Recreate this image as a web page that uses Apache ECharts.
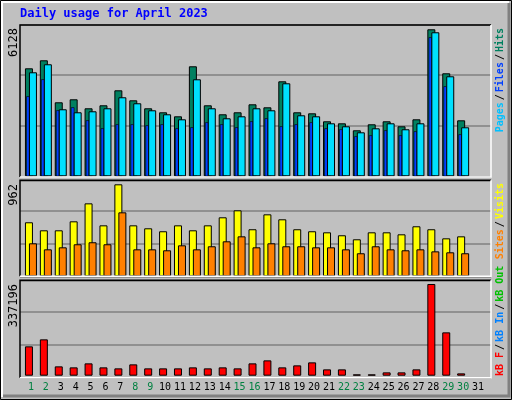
<!DOCTYPE html>
<html><head><meta charset="utf-8">
<script src="https://cdn.jsdelivr.net/npm/echarts@6/dist/echarts.min.js"></script>
<style>html,body{margin:0;padding:0;background:#c0c0c0}#c{width:512px;height:400px}</style>
</head><body><div id="c"></div>
<script>
var days = ['1','2','3','4','5','6','7','8','9','10','11','12','13','14','15','16','17','18','19','20','21','22','23','24','25','26','27','28','29','30','31'];
var weekend = ['1','2','8','9','15','16','22','23','29','30'];
var hits  = [4502,4836,3085,3210,2835,2960,3585,3168,2835,2668,2501,4586,2960,2585,2668,3001,2876,3960,2668,2626,2293,2209,1918,2168,2293,2084,2376,6128,4294,2334,null];
var files = [4336,4670,2794,2668,2710,2835,3294,3044,2752,2585,2376,4044,2835,2418,2501,2835,2752,3877,2543,2501,2209,2084,1834,2001,2209,1960,2209,6004,4169,2043,null];
var pages = [3336,4044,2752,2877,2335,2001,2168,2168,2126,2168,2001,2043,2251,2168,2043,2293,2418,2084,2168,2251,2001,1960,1668,1709,1918,1709,1876,5795,3752,1751,null];
var visits= [565,481,481,575,763,533,962,533,502,471,533,481,533,617,690,492,648,596,492,471,460,429,387,460,460,439,523,492,397,418,null];
var sites = [345,282,303,335,356,335,669,282,282,272,324,282,314,366,418,303,345,314,314,303,303,282,241,314,282,272,282,261,251,241,null];
var kbF   = [107904,133655,34333,30654,45369,30654,26976,41690,26976,26976,26976,30654,26976,30654,26976,45369,56404,30654,38011,49047,23297,23297,4905,4905,12262,12262,23297,337196,159400,8583,null];
var maxLabels = ['6128','962','337196'];

var MONO = '"DejaVu Sans Mono", monospace';
var chart = echarts.init(document.getElementById('c'), null, {renderer:'canvas'});
var frames = [{top:25,h:152,min:-1.3,max:150.7,iv:51},{top:180.3,h:96,min:-3,max:93,iv:33},{top:280.3,h:97.4,min:-1.6,max:95.8,iv:33}];
var datas = [{top:25,h:151.3,max:6307},{top:180.3,h:96,max:1004},{top:280.3,h:95.4,max:350800}];
var grids=[],xA=[],yA=[],series=[];
frames.forEach(function(f,i){
  grids.push({left:20,width:471,top:f.top,height:f.h,show:true,backgroundColor:'#c0c0c0',borderWidth:0});
  xA.push({type:'category',gridIndex:grids.length-1,data:days,show:false});
  yA.push({type:'value',gridIndex:grids.length-1,min:f.min,max:f.max,interval:f.iv,axisLabel:{show:false},axisLine:{show:false},axisTick:{show:false},splitLine:{lineStyle:{color:'#808080',width:1.5}}});
});
function dataGrid(top,h,max,left,showX){
  grids.push({left:left,width:462,top:top,height:h});
  xA.push({type:'category',gridIndex:grids.length-1,data:days,axisLine:{show:false},axisTick:{show:false},
    axisLabel:{show:!!showX,margin:7,interval:0,fontFamily:MONO,fontSize:10,
      formatter:function(v){return weekend.indexOf(v)>=0?'{w|'+v+'}':'{d|'+v+'}';},
      rich:{w:{color:'#008040',fontFamily:MONO,fontSize:10},d:{color:'#000',fontFamily:MONO,fontSize:10}}}});
  yA.push({type:'value',gridIndex:grids.length-1,min:0,max:max,show:false,splitLine:{show:false}});
  return grids.length-1;
}
var g0=dataGrid(datas[0].top,datas[0].h,datas[0].max,23.5);
var gP=dataGrid(datas[0].top,datas[0].h,datas[0].max,20.5);
var g1=dataGrid(datas[1].top,datas[1].h,datas[1].max,23.5);
var g2=dataGrid(datas[2].top,datas[2].h,datas[2].max,23.5,true);
function bar(name,data,gi,color,w,gap,z,bw){
  return {name:name,type:'bar',xAxisIndex:gi,yAxisIndex:gi,data:data,barWidth:w,barGap:gap,z:z,animation:false,
    itemStyle:{color:color,borderColor:'#000',borderWidth:bw||1}};
}
series.push(bar('Hits',hits,g0,'#008060',8,'-50%',2));
series.push(bar('Files',files,g0,'#00e0ff',8,'-50%',4));
series.push(bar('Pages',pages,gP,'#0040ff',3.5,'0%',3,0.6));
series.push(bar('Visits',visits,g1,'#ffff00',8,'-50%',2));
series.push(bar('Sites',sites,g1,'#ff8000',8,'-50%',3));
series.push(bar('kB F',kbF,g2,'#ff0000',8,'-50%',2));
series.push(bar('dummy',kbF.map(function(){return null;}),g2,'#000',8,'-50%',2));

var graphics=[
  {type:'rect',shape:{x:0.5,y:0.5,width:511,height:399},style:{fill:'#c0c0c0',stroke:'#000',lineWidth:1},z:-10},
  {type:'polyline',shape:{points:[[2,397],[2,2],[509,2]]},style:{stroke:'#fff',lineWidth:2,fill:null},z:-9},
  {type:'polyline',shape:{points:[[3,396],[509,396],[509,3]]},style:{stroke:'#808080',lineWidth:3,fill:null},z:-9},
  {type:'text',left:20,top:8,style:{text:'Daily usage for April 2023',fill:'#0000ff',font:'bold 12px '+MONO},z:10}
];
frames.forEach(function(f){
  graphics.push({type:'polyline',shape:{points:[[20,f.top+f.h],[20,f.top],[491,f.top]]},style:{stroke:'#000',lineWidth:1.5,fill:null},z:20});
  graphics.push({type:'polyline',shape:{points:[[20,f.top+f.h],[491,f.top+f.h],[491,f.top]]},style:{stroke:'#fff',lineWidth:1.5,fill:null},z:20});
});
[28,184,284].forEach(function(y,i){
  graphics.push({type:'text',x:14,y:y,rotation:Math.PI/2,style:{text:maxLabels[i],align:'right',verticalAlign:'middle',fill:'#000',font:'12px '+MONO},z:20});
});
function vlegend(parts,y,anchorTop){
  var txt=parts.map(function(p,i){return '{'+'s'+i+'|'+p[0]+'}'+(i<parts.length-1?'{k|/}':'');}).join('');
  var rich={k:{fill:'#000',font:'bold 10px '+MONO,padding:[0,2]}};
  parts.forEach(function(p,i){rich['s'+i]={fill:p[1],font:'bold 10px '+MONO};});
  graphics.push({type:'text',x:500,y:y,rotation:Math.PI/2,style:{text:txt,rich:rich,align:anchorTop?'right':'left',verticalAlign:'middle'},z:20});
}
vlegend([['Pages','#00c0ff'],['Files','#0040ff'],['Hits','#008060']],28,true);
vlegend([['Sites','#ff8000'],['Visits','#ffff00']],183,true);
vlegend([['kB F','#ff0000'],['kB In','#0080ff'],['kB Out','#00c000']],376,false);

chart.setOption({animation:false,grid:grids,xAxis:xA,yAxis:yA,series:series,graphic:graphics});
</script></body></html>
